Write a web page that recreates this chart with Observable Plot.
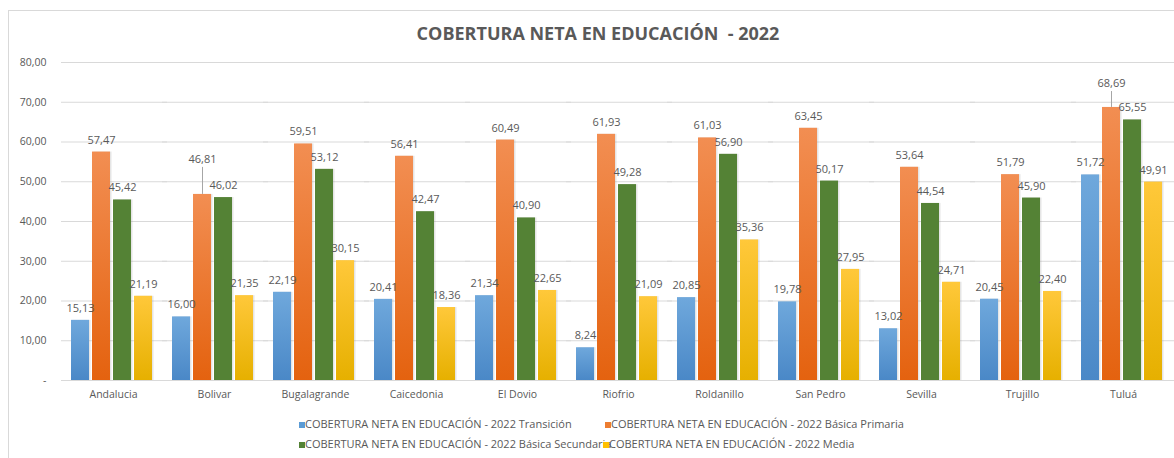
<!DOCTYPE html>
<html><head><meta charset="utf-8">
<script src="https://cdn.jsdelivr.net/npm/d3@7"></script>
<script src="https://cdn.jsdelivr.net/npm/@observablehq/plot@0.6"></script>
<style>
html,body{margin:0;padding:0;background:#fff;}
#wrap{position:relative;width:1174px;height:458px;overflow:hidden;font-family:"Open Sans",sans-serif;}
#frame{position:absolute;left:8px;top:10px;width:1200px;height:500px;border:1px solid #d9d9d9;box-sizing:border-box;}
#title{position:absolute;left:0;width:1196px;top:21px;text-align:center;font-weight:700;font-size:18px;color:#595959;}
#chart{position:absolute;left:0;top:0;}
.leg{position:absolute;font-size:11px;color:#595959;white-space:nowrap;line-height:14px;}
.leg i{display:inline-block;width:6px;height:6px;margin-right:0px;vertical-align:0px;}
</style></head>
<body><div id="wrap"><div id="frame"></div><div id="title">COBERTURA NETA EN EDUCACIÓN&nbsp; - 2022</div><div id="chart"></div><div id="legend"></div></div>
<script>
const categories = ["Andalucia","Bolivar","Bugalagrande","Caicedonia","El Dovio","Riofrio","Roldanillo","San Pedro","Sevilla","Trujillo","Tuluá"];
const series = ["Transición","Básica Primaria","Básica Secundaria","Media"];
const transicion = [15.13,16.00,22.19,20.41,21.34,8.24,20.85,19.78,13.02,20.45,51.72];
const primaria   = [57.47,46.81,59.51,56.41,60.49,61.93,61.03,63.45,53.64,51.79,68.69];
const secundaria = [45.42,46.02,53.12,42.47,40.90,49.28,56.90,50.17,44.54,45.90,65.55];
const media      = [21.19,21.35,30.15,18.36,22.65,21.09,35.36,27.95,24.71,22.40,49.91];
const yTicks = [0,10,20,30,40,50,60,70,80];
const seriesPrefix = "COBERTURA NETA EN EDUCACIÓN - 2022 ";

const colors = ["#5b9bd5","#ed7d31","#548235","#ffc000"];
const gradStops = [["#6fa8dc","#4a88c7"],["#f28e52","#e4620f"],["#548235","#548235"],["#ffc83a","#e6b000"]];

const values = [transicion, primaria, secundaria, media];
const data = [];
categories.forEach((c,i)=>series.forEach((s,j)=>data.push({cat:c, ser:s, v:values[j][i]})));

const leaders = {"Bolivar|Básica Primaria":[8.8,6.8], "Tuluá|Básica Primaria":[6.0,4.0]};
const key = d => d.cat+"|"+d.ser;
const fmt = v => v.toFixed(2).replace(".",",");

const W = 1174, H = 410, gridLeft = 61, wantStart = 69, labelRight = 46;

function build(mL, mR, firstStart) {
  const pad = firstStart - labelRight;
  const insL = firstStart - gridLeft;
  return Plot.plot({
    width:W, height:H,
    marginTop:62, marginBottom:30, marginLeft:mL, marginRight:mR,
    style:{fontFamily:"Open Sans, sans-serif", fontSize:"10px", color:"#595959", background:"transparent"},
    fx:{domain:categories, paddingInner:0.17, paddingOuter:0.085, label:null},
    x:{domain:series, paddingInner:0.15, paddingOuter:0, axis:null},
    y:{domain:[0,80], label:null},
    color:{domain:series, range:series.map((s,i)=>`url(#grad${i})`)},
    marks:[
      Plot.ruleY(yTicks, {y:d=>d, stroke:"#d9d9d9", strokeWidth:1, insetLeft:-insL, insetRight:-14}),
      Plot.axisY(yTicks, {tickSize:0, tickPadding:pad, tickFormat:d=>d===0?"-":fmt(d), fill:"#595959", fontSize:10.5, label:null}),
      Plot.axisFx({anchor:"bottom", tickSize:0, tickPadding:10, fill:"#595959", fontSize:10.5, label:null, letterSpacing:"0.6px", dx:2}),
      Plot.barY(data, {fx:"cat", x:"ser", y:"v", dx:1.5, fillOpacity:0.22, fill:"#888"}),
      Plot.barY(data, {fx:"cat", x:"ser", y:"v", fill:"ser"}),
      Plot.ruleX(data.filter(d=>leaders[key(d)]), {fx:"cat", x:"ser", y1:"v", y2:d=>d.v+leaders[key(d)][1], stroke:"#a6a6a6", strokeWidth:1}),
      Plot.text(data.filter(d=>!leaders[key(d)]), {fx:"cat", x:"ser", y:"v", text:d=>fmt(d.v), dy:-12, fill:"#595959", fontSize:11}),
      Plot.text(data.filter(d=>leaders[key(d)]), {fx:"cat", x:"ser", y:d=>d.v+leaders[key(d)][0], text:d=>fmt(d.v), fill:"#595959", fontSize:11})
    ]
  });
}

let mL = gridLeft, mR = 0;
let first = build(mL, mR, 69.6);
let s0 = 69.6;
try { const fx = first.scale("fx"); if (fx && fx.apply) s0 = fx.apply(categories[0]); } catch(e) {}
const shift = wantStart - s0;
const plot = build(mL + shift, mR - shift, wantStart);

const defs = document.createElementNS("http://www.w3.org/2000/svg","defs");
defs.innerHTML = gradStops.map((g,i)=>`<linearGradient id="grad${i}" x1="0" y1="0" x2="0" y2="1"><stop offset="0" stop-color="${g[0]}"/><stop offset="1" stop-color="${g[1]}"/></linearGradient>`).join("");
plot.insertBefore(defs, plot.firstChild);
document.getElementById("chart").appendChild(plot);

const legend = document.getElementById("legend");
const legPos = [[299,417],[605,417],[299,437],[603,437]];
series.forEach((s,i)=>{
  const d = document.createElement("div");
  d.className="leg";
  d.style.left=legPos[i][0]+"px"; d.style.top=legPos[i][1]+"px";
  d.innerHTML=`<i style="background:${colors[i]}"></i>${seriesPrefix}${s}`;
  legend.appendChild(d);
});
</script></body></html>
